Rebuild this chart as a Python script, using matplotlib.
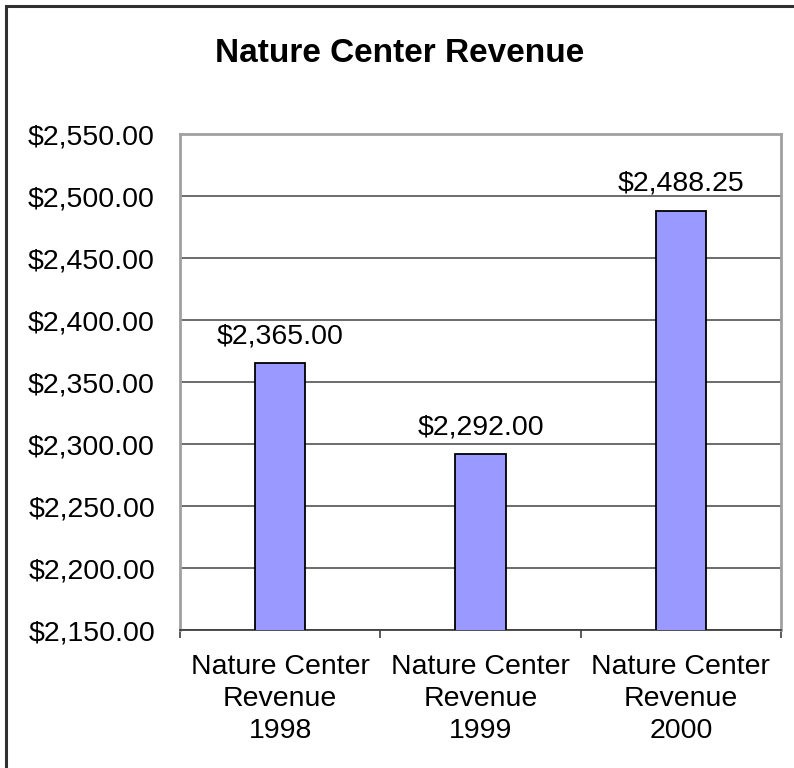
import matplotlib
matplotlib.use("Agg")
import matplotlib.pyplot as plt
from matplotlib.patches import Rectangle

categories = ["Nature Center\nRevenue\n1998", "Nature Center\nRevenue\n1999", "Nature Center\nRevenue\n2000"]
revenue = [2365.00, 2292.00, 2488.25]
yticks = [2150, 2200, 2250, 2300, 2350, 2400, 2450, 2500, 2550]

plt.rcParams['font.family'] = ['Liberation Sans', 'DejaVu Sans']

fig = plt.figure(figsize=(7.94, 7.68), dpi=100)
W, H = 794, 768
ax = fig.add_axes([180 / W, (H - 630) / H, (781 - 180) / W, (630 - 134) / H])

x = list(range(len(categories)))
bars = ax.bar(x, revenue, width=0.25, bottom=0, color="#9999FF", edgecolor="black",
              linewidth=1.3, zorder=3)
ax.set_ylim(yticks[0], yticks[-1])
ax.set_xlim(-0.5, len(categories) - 0.5)
ax.set_yticks(yticks)
ax.set_yticklabels([f"${v:,.2f}" for v in yticks], fontsize=20.5)
ax.yaxis.grid(True, color="#606060", linewidth=1.3, zorder=0)
ax.set_axisbelow(True)
ax.tick_params(axis='y', length=0, pad=18)

ax.set_xticks(x)
ax.set_xticklabels(categories, fontsize=20.5, linespacing=1.3)
ax.set_xticks([i - 0.5 for i in range(len(categories) + 1)], minor=True)
ax.tick_params(axis='x', which='major', length=0, pad=17)
ax.tick_params(axis='x', which='minor', length=6, width=1.2, color="#404040")

for side in ["top", "left", "right"]:
    ax.spines[side].set_color("#a0a0a0")
    ax.spines[side].set_linewidth(2)
ax.spines["bottom"].set_color("#404040")
ax.spines["bottom"].set_linewidth(1.3)

for xi, v in zip(x, revenue):
    ax.annotate(f"${v:,.2f}", (xi, v), xytext=(0, 10), textcoords="offset points",
                ha="center", va="bottom", fontsize=20.5)

fig.text(400 / W, 1 - 53 / H, "Nature Center Revenue", ha="center", va="center",
         fontsize=24, fontweight="bold")

fig.patches.append(Rectangle((5.5 / W, -0.1), 1.2, 1 - 5.5 / H + 0.1,
                             transform=fig.transFigure, fill=False,
                             edgecolor="#303030", linewidth=2.2))

fig.savefig("out.png", dpi=100)
